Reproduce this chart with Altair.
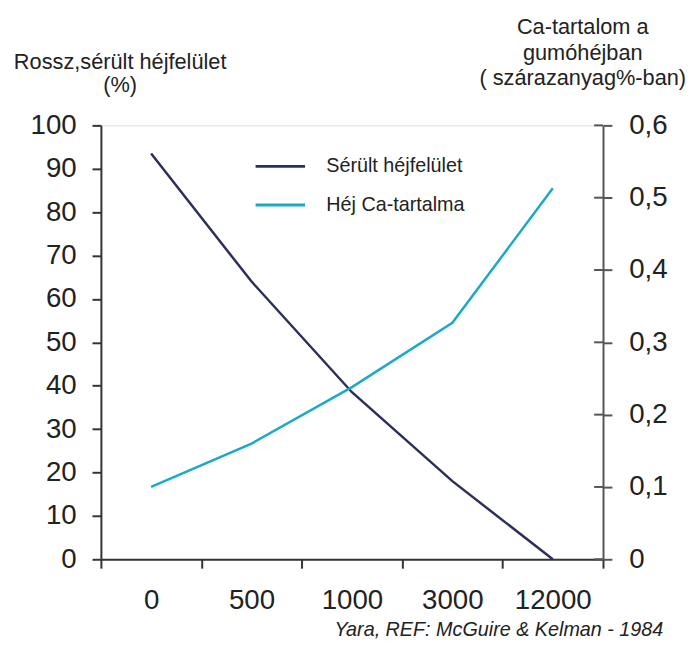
import altair as alt
import pandas as pd

doses = ["0", "500", "1000", "3000", "12000"]
damaged = [93.5, 64, 38.5, 18, 0]
calcium = [0.1, 0.16, 0.238, 0.327, 0.513]
series = ["Sérült héjfelület", "Héj Ca-tartalma"]
colors = ["#2c2e5c", "#1ba9c9"]
left_ticks = [0, 10, 20, 30, 40, 50, 60, 70, 80, 90, 100]
right_ticks = [0, 0.1, 0.2, 0.3, 0.4, 0.5, 0.6]
left_title = ["Rossz,sérült héjfelület", "(%)"]
right_title = ["Ca-tartalom  a", "gumóhéjban", "( szárazanyag%-ban)"]
credit = "Yara, REF: McGuire & Kelman - 1984"

W, H = 508, 439
FONT = "Liberation Sans"
TXT = "#222222"

df_l = pd.DataFrame({"dose": doses, "v": damaged, "s": [series[0]] * len(doses)})
df_r = pd.DataFrame({"dose": doses, "v": calcium, "s": [series[1]] * len(doses)})
df_rt = pd.DataFrame({"t": right_ticks})

xenc = alt.X(
    "dose:N",
    sort=doses,
    scale=alt.Scale(type="band", paddingInner=0, paddingOuter=0),
    axis=alt.Axis(
        title=None, tickBand="extent", labelAngle=0, labelFontSize=28,
        labelColor=TXT, labelFont=FONT, tickSize=9, tickWidth=2, tickColor="#333",
        domainColor="#333", domainWidth=2, labelPadding=19, grid=False,
    ),
)

color_scale = alt.Scale(domain=series, range=colors)
legend = alt.Legend(
    title=None, orient="none", legendX=155, legendY=15, symbolType="stroke",
    symbolSize=2500, symbolStrokeWidth=3, labelFontSize=20, labelFont=FONT,
    labelColor=TXT, labelOffset=20, rowPadding=2,
)
cenc = alt.Color("s:N", scale=color_scale, legend=legend)

left = alt.Chart(df_l).mark_line(strokeWidth=2.5).encode(
    x=xenc,
    y=alt.Y(
        "v:Q",
        scale=alt.Scale(domain=[0, 100], nice=False),
        axis=alt.Axis(
            orient="left", values=left_ticks, labelFontSize=28, labelColor=TXT,
            labelFont=FONT, tickSize=9, tickWidth=2, tickColor="#333",
            domainColor="#333", domainWidth=2, labelPadding=16, grid=False,
            title=left_title, titleAngle=0, titleAlign="center", titleBaseline="top",
            titleX=19, titleY=-75, titleFontSize=22, titleFontWeight="normal",
            titleFont=FONT, titleColor=TXT, titleLineHeight=24,
        ),
    ),
    color=cenc,
)

raxis = alt.Axis(
    orient="right", values=right_ticks, labelFontSize=28, labelColor=TXT,
    labelFont=FONT, tickSize=9, tickWidth=2, tickColor="#555",
    domainColor="#555", domainWidth=2, labelPadding=17, grid=False,
    labelExpr="replace(format(datum.value, '.1~f'), '.', ',')",
    title=right_title, titleAngle=0, titleAlign="center", titleBaseline="top",
    titleX=-21, titleY=-110, titleFontSize=22, titleFontWeight="normal",
    titleFont=FONT, titleColor=TXT, titleLineHeight=26,
)
rscale = alt.Scale(domain=[0, 0.6], nice=False)

right_line = alt.Chart(df_r).mark_line(strokeWidth=2.5).encode(
    x=xenc,
    y=alt.Y("v:Q", scale=rscale, axis=raxis),
    color=cenc,
)
right_ticks_in = alt.Chart(df_rt).mark_rule(color="#555", strokeWidth=2).encode(
    x=alt.value(W - 9), x2=alt.value(W),
    y=alt.Y("t:Q", scale=rscale, axis=raxis),
)
right = alt.layer(right_line, right_ticks_in)

credit_txt = alt.Chart(pd.DataFrame({"c": [credit]})).mark_text(
    align="right", baseline="alphabetic", fontSize=20, fontStyle="italic",
    font=FONT, color=TXT,
).encode(
    text="c:N", x=alt.value(671 - 102), y=alt.value(640 - 123),
)

chart = alt.layer(left, right, credit_txt).resolve_scale(y="independent").properties(
    width=W, height=H,
    autosize=alt.AutoSizeParams(type="none"),
    padding={"left": 94, "top": 115, "right": 87, "bottom": 84},
).configure_view(stroke=None).configure(background="white")

chart.save("out.html", embed_options={"renderer": "svg", "actions": False})
